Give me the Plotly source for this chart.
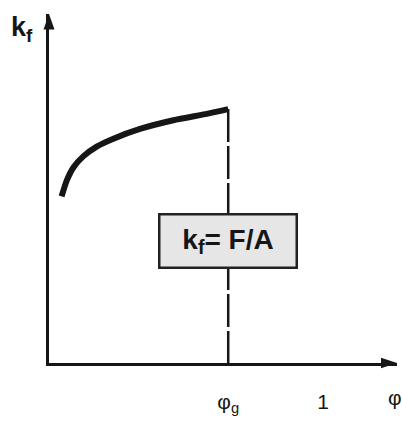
import plotly.graph_objects as go

# Flow-stress curve k_f over true strain phi, up to the limit strain phi_g
phi = [0.046, 0.065, 0.089, 0.125, 0.174, 0.235, 0.332, 0.454, 0.576, 0.654]
kf = [0.631, 0.691, 0.740, 0.782, 0.819, 0.849, 0.886, 0.919, 0.943, 0.961]

PHI_G = 0.654
tick_vals = [PHI_G, 1.0]
tick_text = ['φ<sub style="font-size:17px">g</sub>', "1"]

X_MAX = 1.27
Y_MAX = 1.321

W, H = 402, 421
M_L, M_R, M_T, M_B = 49, 5, 14, 45
plot_w = W - M_L - M_R
plot_h = H - M_T - M_B

INK = "#161616"
FONT = "Liberation Sans, Arial, Helvetica, sans-serif"

fig = go.Figure()

# hardening curve
fig.add_trace(go.Scatter(
    x=phi, y=kf, mode="lines",
    line=dict(color=INK, width=6, shape="spline", smoothing=0.6),
    hoverinfo="skip", showlegend=False,
))

# dashed marker at the limit strain
fig.add_trace(go.Scatter(
    x=[PHI_G, PHI_G], y=[kf[-1], 0], mode="lines",
    line=dict(color=INK, width=2.5, dash="33px,4px"),
    hoverinfo="skip", showlegend=False,
))

# arrowheads at the ends of both axes (paper coordinates)
ah_len, ah_half = 16, 5.5
fig.add_shape(type="path", xref="paper", yref="paper",
              path=(f"M 1,0 L {1 - ah_len / plot_w},{ah_half / plot_h} "
                    f"L {1 - ah_len / plot_w},{-ah_half / plot_h} Z"),
              fillcolor=INK, line=dict(width=0))
fig.add_shape(type="path", xref="paper", yref="paper",
              path=(f"M 0,1 L {ah_half / plot_w},{1 - ah_len / plot_h} "
                    f"L {-ah_half / plot_w},{1 - ah_len / plot_h} Z"),
              fillcolor=INK, line=dict(width=0))

# formula box
fig.add_annotation(
    x=PHI_G, y=0.46, xref="x", yref="y",
    text="<b>k<sub>f</sub>= F/A</b>", showarrow=False,
    font=dict(family=FONT, size=28, color=INK),
    bgcolor="#e6e6e6", bordercolor="#222222", borderwidth=2.5, borderpad=1,
    width=133, height=49, align="center", valign="middle",
)

# axis titles
fig.add_annotation(
    x=0, y=1 - (30 - M_T) / plot_h,
    xref="paper", yref="paper", xanchor="right", yanchor="middle", xshift=-14,
    text="<b>k<sub>f</sub></b>", showarrow=False,
    font=dict(family=FONT, size=27, color=INK),
)
fig.add_annotation(
    x=1, y=0, xref="paper", yref="paper", xanchor="center", yanchor="top",
    xshift=-2, yshift=-21,
    text="φ", showarrow=False,
    font=dict(family=FONT, size=21, color=INK),
)

fig.update_xaxes(
    range=[0, X_MAX], showgrid=False, zeroline=False,
    showline=True, linecolor=INK, linewidth=2.5,
    tickvals=tick_vals, ticktext=tick_text, ticks="",
    ticklabelstandoff=18,
    tickfont=dict(family=FONT, size=21, color=INK),
)
fig.update_yaxes(
    range=[0, Y_MAX], showgrid=False, zeroline=False,
    showline=True, linecolor=INK, linewidth=2.5,
    showticklabels=False, ticks="",
)

fig.update_layout(
    width=W, height=H,
    margin=dict(l=M_L, r=M_R, t=M_T, b=M_B, pad=0),
    paper_bgcolor="white", plot_bgcolor="white",
    showlegend=False,
)

fig.write_html("out.html")
